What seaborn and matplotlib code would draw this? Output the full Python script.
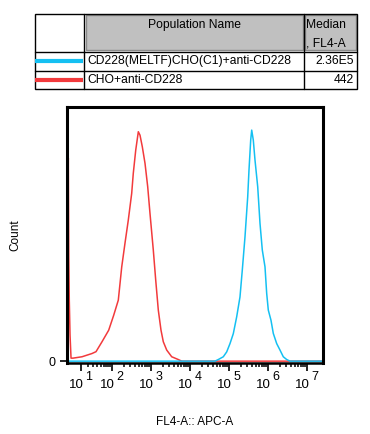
import numpy as np
import pandas as pd
import matplotlib
matplotlib.use("Agg")
import matplotlib.pyplot as plt
import matplotlib.transforms as mtransforms
from matplotlib.patches import Rectangle
from matplotlib.ticker import FixedLocator, NullFormatter, NullLocator
import seaborn as sns

sns.set_style("ticks")
plt.rcParams["font.family"] = ["Liberation Sans", "DejaVu Sans"]
plt.rcParams["text.color"] = "black"
plt.rcParams["axes.labelcolor"] = "black"
plt.rcParams["xtick.color"] = "black"
plt.rcParams["ytick.color"] = "black"

# Data

populations = ["CD228(MELTF)CHO(C1)+anti-CD228", "CHO+anti-CD228"]
medians = ["2.36E5", "442"]
colors = ["#14c0f2", "#f23a3c"]

# CHO+anti-CD228 : FL4-A values and % of max
red_x = [-7, -5.4, -4.8, -4.2, -3.3, -2.1, 0.24, 11.4, 27.8, 36.8, 54.3, 82, 111, 146,
         179, 217, 264, 323, 355, 410, 478, 528, 605, 710, 832, 953, 1158, 1335,
         1556, 1825, 2090, 2555, 3432, 5067, 6195, 2.6e7]
red_y = [0, 87.9, 45.5, 26.4, 11.3, 1.3, 1.3, 1.9, 3.3, 4.1, 8.4, 13.4, 19.9, 26.4,
         40.8, 51.0, 61.0, 72.6, 81.3, 91.3, 99.3, 97.8, 92.8, 85.6, 75.5, 63.9, 48.1, 35.1,
         22.1, 13.4, 8.4, 4.8, 1.9, 0.7, 0, 0]

# CD228(MELTF)CHO(C1)+anti-CD228
blue_x = [-7, 44232, 53750, 72180, 88230, 107200, 130300, 159200, 193400, 221600,
          259900, 305000, 329100, 364000, 386200, 424300, 469300, 550400, 630500,
          722200, 846800, 935900, 1029000, 1206000, 1382000, 1689000, 2052000,
          2493000, 3048000, 3702000, 2.6e7]
blue_y = [0, 0, 0.7, 1.9, 4.0, 7.6, 11.9, 19.2, 27.8, 39.4,
          53.8, 71.1, 82.7, 95.7, 100, 95.7, 87.0, 75.5, 59.6,
          48.1, 40.8, 29.3, 22.1, 17.7, 12.0, 7.6, 4.8,
          1.9, 0.7, 0, 0]

decades = [1, 2, 3, 4, 5, 6, 7]

df = pd.concat([
    pd.DataFrame({"FL4-A": blue_x, "Count": blue_y, "Population": populations[0]}),
    pd.DataFrame({"FL4-A": red_x, "Count": red_y, "Population": populations[1]}),
])

# Figure

fig = plt.figure(figsize=(3.70, 4.34), dpi=100)
ax = fig.add_axes([67 / 370, 1 - 363 / 434, 256 / 370, 256 / 434])

ax.set_xscale("function", functions=(lambda v: np.arcsinh(np.asarray(v) / 20.0),
                                     lambda u: 20.0 * np.sinh(np.asarray(u))))

# red first, blue on top
for pop, col in [(populations[1], colors[1]), (populations[0], colors[0])]:
    sns.lineplot(data=df[df["Population"] == pop], x="FL4-A", y="Count",
                 color=col, lw=1.1, estimator=None, sort=False, ax=ax, legend=False)

ax.set_xlim(-7, 2.6e7)
ax.set_ylim(-0.8, 110)

# x ticks: decades as major ticks, 2..9 x 10^n as short ticks
major = [10.0 ** d for d in decades]
minor = [k * 10.0 ** d for d in range(1, 7) for k in range(2, 10)]
ax.xaxis.set_major_locator(FixedLocator(major))
ax.xaxis.set_major_formatter(NullFormatter())
ax.xaxis.set_minor_locator(NullLocator())
ax.tick_params(axis="x", which="major", length=5.5, width=1.2, color="black")

xt = ax.get_xaxis_transform()
ax.plot(minor, np.zeros(len(minor)), ls="none", marker=3, ms=3.2, mew=1.1,
        color="black", transform=xt, clip_on=False, zorder=5)

# tick labels "10" with exponent, placed at each decade
for d in decades:
    t_base = mtransforms.offset_copy(xt, fig=fig, x=3, y=-22, units="dots")
    ax.text(10.0 ** d, 0, "10", transform=t_base, ha="right", va="center", fontsize=9.5)
    t_exp = mtransforms.offset_copy(xt, fig=fig, x=4.5, y=-14, units="dots")
    ax.text(10.0 ** d, 0, str(d), transform=t_exp, ha="left", va="center", fontsize=9)

ax.set_yticks([0])
ax.set_yticklabels(["0"], fontsize=9)
ax.tick_params(axis="y", length=5, width=1.2, pad=3)

for s in ax.spines.values():
    s.set_linewidth(2.2)
    s.set_color("black")
ax.spines["bottom"].set_linewidth(1.8)

ax.set_xlabel("FL4-A:: APC-A", fontsize=8.5, labelpad=29)
ax.set_ylabel("Count", fontsize=8.5, labelpad=20)

# Legend table at the top

tab = fig.add_axes([0, 0, 1, 1])
tab.set_xlim(0, 370)
tab.set_ylim(434, 0)
tab.axis("off")

tab.add_patch(Rectangle((86, 15), 216.5, 35, facecolor="#c0c0c0", edgecolor="#8a8a8a", lw=1))
tab.add_patch(Rectangle((305, 15), 51, 35, facecolor="#c0c0c0", edgecolor="#8a8a8a", lw=1))
tab.add_patch(Rectangle((35, 14), 322, 75, facecolor="none", edgecolor="black", lw=1))
tab.plot([83.5, 83.5], [14, 89], color="black", lw=1)
tab.plot([303.5, 303.5], [14, 89], color="black", lw=1)
tab.plot([35, 357], [51.5, 51.5], color="black", lw=1)
tab.plot([35, 357], [70.5, 70.5], color="black", lw=1)

tab.text(194, 25, "Population Name", ha="center", va="center", fontsize=8.7)
tab.text(306, 25, "Median", ha="left", va="center", fontsize=8.7)
tab.text(306, 43, ", FL4-A", ha="left", va="center", fontsize=8.7)

for i, (pop, med, col) in enumerate(zip(populations, medians, colors)):
    yc = 61 + i * 19
    tab.plot([35, 83], [yc, yc], color=col, lw=3, solid_capstyle="butt")
    tab.text(87, yc, pop, ha="left", va="center", fontsize=8.7)
    tab.text(354, yc, med, ha="right", va="center", fontsize=8.7)

plt.savefig("out.png", dpi=100)
